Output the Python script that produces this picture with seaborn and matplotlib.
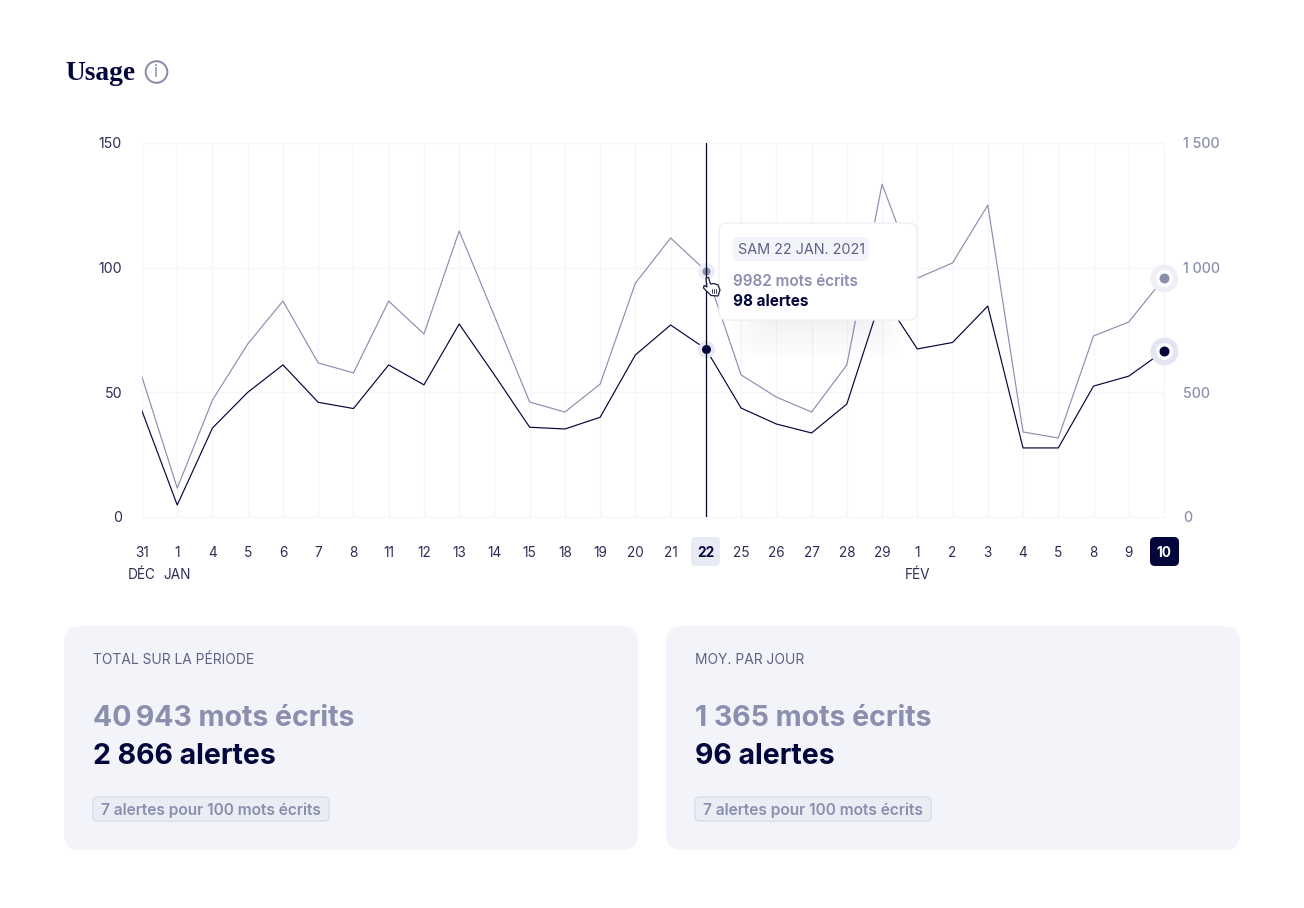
import matplotlib
matplotlib.use("Agg")
import matplotlib.pyplot as plt
import pandas as pd
import seaborn as sns
from matplotlib.patches import FancyBboxPatch, Circle, Polygon

day_labels = ["31\nDÉC", "1\nJAN", "4", "5", "6", "7", "8", "11", "12", "13", "14", "15", "18", "19", "20",
              "21", "22", "25", "26", "27", "28", "29", "1\nFÉV", "2", "3", "4", "5", "8", "9", "10"]
alertes = [42.5, 4.8, 35.7, 50, 61, 46, 43.5, 61, 53, 77.4, 57, 36, 35.3, 40, 65,
           77, 67.4, 43.7, 37.3, 33.7, 45.3, 89, 67.4, 70, 84.6, 27.7, 27.7, 52.5, 56.5, 66.6]
mots = [561, 116, 469, 694, 866, 618, 578, 866, 734, 1147, 806, 461, 421, 533, 938,
        1119, 987, 570, 481, 421, 610, 1335, 958, 1019, 1251, 341, 317, 726, 782, 958]
left_ticks = [0, 50, 100, 150]
right_ticks = [0, 500, 1000, 1500]
right_labels = ["0", "500", "1 000", "1 500"]
selected = 16

DARK = "#03063a"
GRAY = "#8a8fae"
GRID = "#f5f6fb"
CARD = "#f3f4fa"
TXT = "#2b2e55"
SUB = "#5d6183"

sns.set_theme(style="white")
plt.rcParams["font.family"] = ["Inter", "DejaVu Sans"]

W, H = 1304, 908
fig = plt.figure(figsize=(W / 100, H / 100), dpi=100, facecolor="white")
px = lambda v: v * 0.72


def overlay(z):
    a = fig.add_axes([0, 0, 1, 1], zorder=z)
    a.set_xlim(0, W)
    a.set_ylim(H, 0)
    a.axis("off")
    a.patch.set_alpha(0)
    return a


def rbox(a, x0, y0, x1, y1, r, fc, ec="none", lw=0, z=1, alpha=None):
    p = FancyBboxPatch((x0 + r, y0 + r), x1 - x0 - 2 * r, y1 - y0 - 2 * r,
                       boxstyle=f"round,pad={r},rounding_size={r}", fc=fc, ec=ec, lw=lw, zorder=z, alpha=alpha)
    a.add_patch(p)


back = overlay(0)
front = overlay(5)

# chart
df = pd.DataFrame({"i": range(len(day_labels)), "alertes": alertes, "mots": mots})
ax = fig.add_axes([142 / W, (H - 517) / H, 1022 / W, 374 / H], zorder=2)
ax.patch.set_alpha(0)
ax2 = ax.twinx()
ax2.set_zorder(1)
ax2.patch.set_alpha(0)
ax.set_zorder(2)

ax2.vlines(df["i"], 0, 1500, color=GRID, lw=1.0, zorder=0, clip_on=False)
ax2.hlines(right_ticks, 0, len(day_labels) - 1, color=GRID, lw=1.0, zorder=0, clip_on=False)
sns.lineplot(data=df, x="i", y="mots", ax=ax2, color=GRAY, lw=0.85, legend=False)
sns.lineplot(data=df, x="i", y="alertes", ax=ax, color=DARK, lw=0.85, legend=False)

ax.set_xlim(0, len(day_labels) - 1)
ax.set_ylim(0, 150)
ax2.set_ylim(0, 1500)
ax.set_xlabel("")
ax.set_ylabel("")
ax2.set_ylabel("")
for a in (ax, ax2):
    for s in a.spines.values():
        s.set_visible(False)

ax2.set_yticks(right_ticks)
ax2.set_yticklabels(right_labels, fontsize=px(14.2), color=GRAY, fontweight="medium")
ax2.tick_params(axis="y", length=0, pad=px(19))

ax.set_yticks(left_ticks)
ax.set_yticklabels([str(v) for v in left_ticks], fontsize=px(14.2), color=TXT)
ax.tick_params(axis="y", length=0, pad=px(20))
ax.set_xticks(df["i"])
ax.set_xticklabels(day_labels, fontsize=px(13.6), color=TXT, linespacing=1.72)
ax.tick_params(axis="x", length=0, pad=px(29))
for lab in ax.get_xticklabels():
    lab.set_va("top")
labs = ax.get_xticklabels()
labs[selected].set_fontweight("bold")
labs[selected].set_color(DARK)
labs[-1].set_fontweight("bold")
labs[-1].set_color("white")
ax.axvline(selected, color="#05062a", lw=0.9, zorder=4)

# point markers at selected and last date
ax2.scatter([selected], [mots[selected]], s=px(17) ** 2, color="#eceef6", lw=0, zorder=5, clip_on=False)
ax2.scatter([selected], [mots[selected]], s=px(8) ** 2, color=GRAY, lw=0, zorder=6, clip_on=False)
ax2.scatter([len(mots) - 1], [mots[-1]], s=px(28) ** 2, color="#eff0f7", lw=0, zorder=5, clip_on=False)
ax2.scatter([len(mots) - 1], [mots[-1]], s=px(17) ** 2, color="white", lw=0, zorder=6, clip_on=False)
ax2.scatter([len(mots) - 1], [mots[-1]], s=px(10) ** 2, color=GRAY, lw=0, zorder=7, clip_on=False)
ax.scatter([selected], [alertes[selected]], s=px(17) ** 2, color="#e6e8f2", lw=0, zorder=3, clip_on=False)
ax.scatter([selected], [alertes[selected]], s=px(9) ** 2, color=DARK, lw=0, zorder=6, clip_on=False)
ax.scatter([len(mots) - 1], [alertes[-1]], s=px(28) ** 2, color="#e3e5f0", lw=0, zorder=5, clip_on=False)
ax.scatter([len(mots) - 1], [alertes[-1]], s=px(17) ** 2, color="white", lw=0, zorder=6, clip_on=False)
ax.scatter([len(mots) - 1], [alertes[-1]], s=px(10) ** 2, color=DARK, lw=0, zorder=7, clip_on=False)

# date pills behind tick labels
rbox(back, 691, 537, 720, 566, 5, "#e8eaf4")
rbox(back, 1150, 537, 1179, 566, 5, DARK)

# title
back.text(65, 73, "Usage", family=["Liberation Serif", "DejaVu Serif"], fontweight="bold", fontsize=px(27.5),
          color=DARK, va="center", ha="left")
back.add_patch(Circle((156.5, 72), 10.8, fc="none", ec=GRAY, lw=1.5))
back.text(156.5, 72.5, "i", fontsize=px(17), color=GRAY, ha="center", va="center")

# stat cards
cards = [
    (64, 638, "TOTAL SUR LA PÉRIODE", "40\u202f943 mots écrits", "2 866 alertes"),
    (666, 1240, "MOY. PAR JOUR", "1 365 mots écrits", "96 alertes"),
]
for x0, x1, head, big1, big2 in cards:
    tx = x0 + 29
    rbox(back, x0, 626, x1, 850, 16, CARD)
    back.text(tx, 660.5, head, fontsize=px(13.8), color=SUB, va="center", ha="left")
    back.text(tx, 719, big1, fontsize=px(28.5), color=GRAY, fontweight="bold", va="center", ha="left")
    back.text(tx, 757, big2, fontsize=px(28.5), color=DARK, fontweight="bold", va="center", ha="left")
    rbox(back, tx, 797, tx + 236, 821, 5, "#ebedf5", ec="#d9dce8", lw=1.0)
    back.text(tx + 118, 810, "7 alertes pour 100 mots écrits", fontsize=px(15.5), color=GRAY,
              fontweight="semibold", va="center", ha="center")

# tooltip shadow, box and text
for i in range(18):
    g = 14 - i * 3.0
    rbox(front, 745 - g, 262 - g, 890 + g, 345 + g, 18, "#8a90b8", z=1, alpha=0.0065)
rbox(front, 719, 223, 917, 320, 8, "white", ec="#eef0f6", lw=1.0, z=2)
rbox(front, 733, 237, 869, 261, 5, CARD, z=3)
front.text(801, 250.5, "SAM 22 JAN. 2021", fontsize=px(14.4), color=SUB, va="center", ha="center", zorder=4)
front.text(733, 281, "9982 mots écrits", fontsize=px(15.3), color=GRAY, fontweight="semibold", va="center", ha="left", zorder=4)
front.text(733, 302, "98 alertes", fontsize=px(15.3), color=DARK, fontweight="bold", va="center", ha="left", zorder=4)

# hand cursor
hand = [(706, 278), (708.5, 277.5), (710.5, 284), (714, 283.5), (718, 285), (720, 290), (718, 296),
        (711, 295.5), (703.5, 288), (704, 285.5), (707, 287)]
front.add_patch(Polygon(hand, closed=True, fc="white", ec="#1a1c3c", lw=0.9, zorder=6))
for xx in (711.5, 713.5, 715.5):
    front.plot([xx, xx], [288.5, 293], color="#1a1c3c", lw=0.6, zorder=7)

fig.savefig("out.png", dpi=100, facecolor="white")
